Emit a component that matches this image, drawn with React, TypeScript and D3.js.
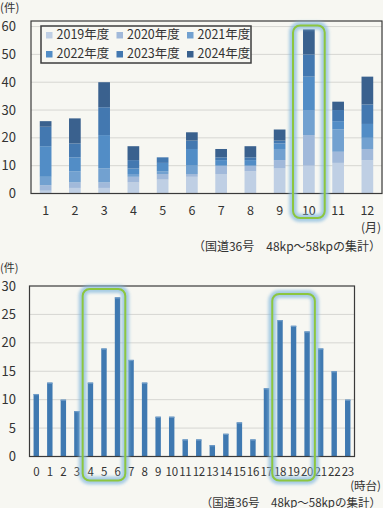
import React from "react";
import * as d3 from "d3";

const months = ["1", "2", "3", "4", "5", "6", "7", "8", "9", "10", "11", "12"];
const seriesNames = ["2019年度", "2020年度", "2021年度", "2022年度", "2023年度", "2024年度"];
const s2019 = [1, 2, 2, 4, 5, 6, 7, 8, 9, 10, 11, 12];
const s2020 = [2, 2, 2, 2, 2, 1, 3, 2, 3, 11, 4, 4];
const s2021 = [3, 4, 5, 1, 1, 3, 0, 0, 4, 9, 8, 4];
const s2022 = [11, 5, 12, 2, 3, 6, 2, 2, 2, 12, 3, 5];
const s2023 = [7, 5, 10, 3, 2, 3, 1, 1, 1, 8, 4, 7];
const s2024 = [2, 9, 9, 5, 0, 3, 3, 4, 4, 9, 3, 10];
const seriesColors = ["#bfcfe4", "#a1b9da", "#72a1d0", "#528dc6", "#4378b0", "#3a618e"];
const topTicks = [0, 10, 20, 30, 40, 50, 60];
const highlightMonths = ["10"];

const hours = d3.range(24).map(String);
const hourCounts = [11, 13, 10, 8, 13, 19, 28, 17, 13, 7, 7, 3, 3, 2, 4, 6, 3, 12, 24, 23, 22, 19, 15, 10];
const bottomTicks = [0, 5, 10, 15, 20, 25, 30];
const highlightHours = [["4", "6"], ["18", "20"]];

const FONT = "'Noto Sans CJK JP', 'Noto Sans', sans-serif";
const BG = "#f7f7f2";
const TXT = "#333";

function Highlight({ x0, x1, y0, y1 }: { x0: number; x1: number; y0: number; y1: number }) {
  return (
    <g>
      <rect x={x0} y={y0} width={x1 - x0} height={y1 - y0} rx={7} fill="none" stroke="#86bade" strokeWidth={8} opacity={0.7} filter="url(#glow)" />
      <rect x={x0} y={y0} width={x1 - x0} height={y1 - y0} rx={7} fill="none" stroke="#8cc63f" strokeWidth={2} />
    </g>
  );
}

export default function App() {
  React.useEffect(() => {
    document.body.style.margin = "0";
  }, []);

  // top chart
  const tL = 31, tR = 382, tT = 21, tB = 193.5;
  const xTop = d3.scaleBand().domain(months).range([tL, tR]).paddingInner(0.6).paddingOuter(0.3);
  const yTop = d3.scaleLinear().domain([0, 62]).range([tB, tT]);
  const rows = months.map((m, i) => ({
    month: m,
    "2019年度": s2019[i],
    "2020年度": s2020[i],
    "2021年度": s2021[i],
    "2022年度": s2022[i],
    "2023年度": s2023[i],
    "2024年度": s2024[i],
  }));
  const stacked = d3.stack<any>().keys(seriesNames)(rows);

  // bottom chart
  const bL = 29.5, bR = 354.5, bT = 286, bB = 456.5;
  const xBot = d3.scaleBand().domain(hours).range([bL, bR]).paddingInner(0.6).paddingOuter(0.3);
  const yBot = d3.scaleLinear().domain([0, 30]).range([bB, bT]);
  const bandStep = xBot.step();

  return (
    <svg width={383} height={508} style={{ display: "block", position: "absolute", left: 0, top: 0 }} fontFamily={FONT}>
      <defs>
        <filter id="glow" x="-30%" y="-10%" width="160%" height="120%">
          <feGaussianBlur stdDeviation="1.5" />
        </filter>
      </defs>
      <rect x={0} y={0} width={383} height={508} fill={BG} />

      {/* ===== Top chart ===== */}
      <text x={0} y={12} fontSize={11.5} fill={TXT}>(件)</text>
      {topTicks.map((t) => (
        <g key={"tt" + t}>
          {t > 0 && <line x1={tL} x2={tR} y1={yTop(t)} y2={yTop(t)} stroke="#d6d6d2" strokeWidth={1} />}
          <text x={16} y={yTop(t)} dy="0.35em" textAnchor="end" fontSize={13} fill={TXT}>{t}</text>
        </g>
      ))}
      {stacked.map((layer, si) => (
        <g key={"layer" + si} fill={seriesColors[si]}>
          {layer.map((d, i) => (
            <rect key={i} x={xTop(months[i])!} width={xTop.bandwidth()} y={yTop(d[1])} height={Math.max(0, yTop(d[0]) - yTop(d[1]))} />
          ))}
        </g>
      ))}
      <rect x={tL} y={tT} width={tR - tL} height={tB - tT} fill="none" stroke="#3a3a3a" strokeWidth={1.2} />
      {months.map((m) => (
        <text key={"mx" + m} x={xTop(m)! + xTop.bandwidth() / 2} y={215} textAnchor="middle" fontSize={12.5} fill={TXT}>{m}</text>
      ))}
      <text x={381} y={232} textAnchor="end" fontSize={12} fill={TXT}>(月)</text>
      <text x={381} y={251} textAnchor="end" fontSize={12} fill={TXT}>（国道36号　48kp～58kpの集計）</text>

      {/* legend */}
      <rect x={41} y={26} width={210} height={37} fill={BG} stroke="#3e3e3e" strokeWidth={1.5} />
      {seriesNames.map((s, i) => {
        const col = i % 3;
        const row = Math.floor(i / 3);
        const lx = 46 + col * 70.5;
        const ly = 35 + row * 19;
        return (
          <g key={"lg" + s}>
            <rect x={lx} y={ly - 3} width={6.5} height={6.5} fill={seriesColors[i]} />
            <text x={lx + 10.5} y={ly} dy="0.35em" fontSize={12.5} fill={TXT}>{s}</text>
          </g>
        );
      })}

      {highlightMonths.map((m) => (
        <Highlight key={"hm" + m} x0={xTop(m)! - 10} x1={xTop(m)! + xTop.bandwidth() + 10} y0={25.5} y1={218} />
      ))}

      {/* ===== Bottom chart ===== */}
      <text x={0} y={272} fontSize={11} fill={TXT}>(件)</text>
      {bottomTicks.map((t) => (
        <g key={"bt" + t}>
          {t > 0 && t < 30 && <line x1={bL} x2={bR} y1={yBot(t)} y2={yBot(t)} stroke="#d6d6d2" strokeWidth={1} />}
          <text x={16} y={yBot(t)} dy="0.35em" textAnchor="end" fontSize={13} fill={TXT}>{t}</text>
        </g>
      ))}
      {hours.map((h, i) => (
        <g key={"hb" + h}>
          <rect x={xBot(h)!} width={xBot.bandwidth()} y={yBot(hourCounts[i])} height={yBot(0) - yBot(hourCounts[i])} fill="#3f79b1" />
          <rect x={xBot(h)!} width={xBot.bandwidth()} y={yBot(hourCounts[i])} height={1.2} fill="#6f9cc8" />
        </g>
      ))}
      <rect x={bL} y={bT} width={bR - bL} height={bB - bT} fill="none" stroke="#3a3a3a" strokeWidth={1.2} />
      {hours.map((h) => (
        <text key={"hx" + h} x={xBot(h)! + xBot.bandwidth() / 2} y={476} textAnchor="middle" fontSize={11.5} letterSpacing={-0.3} fill={TXT}>{h}</text>
      ))}
      <text x={381} y={490} textAnchor="end" fontSize={11.5} fill={TXT}>(時台)</text>
      <text x={381} y={506.5} textAnchor="end" fontSize={11.5} fill={TXT}>（国道36号　48kp～58kpの集計）</text>

      {highlightHours.map(([a, b]) => (
        <Highlight key={"hh" + a} x0={xBot(a)! - bandStep * 0.3 - 1} x1={xBot(b)! + xBot.bandwidth() + bandStep * 0.3 + 1} y0={a === "4" ? 289 : 294} y1={480.5} />
      ))}
    </svg>
  );
}
